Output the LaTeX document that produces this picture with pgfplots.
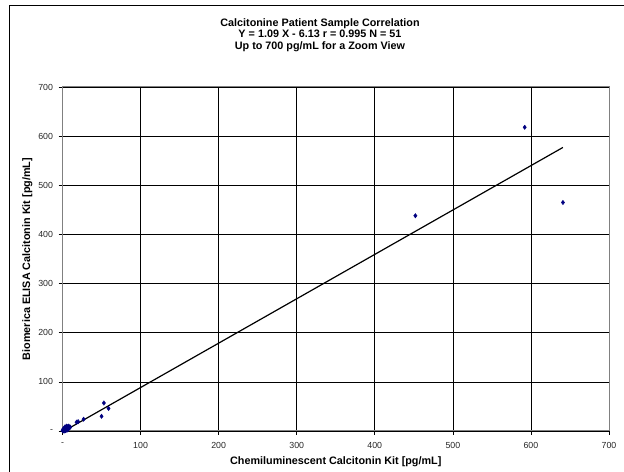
\documentclass[border=0pt]{standalone}
\usepackage{pgfplots}
\pgfplotsset{compat=1.18}
\usepackage{fontspec}
\setmainfont{Liberation Sans}
\definecolor{navy}{HTML}{000080}
\definecolor{axgray}{HTML}{808080}
\begin{document}
\begin{tikzpicture}[x=1bp,y=1bp]
\useasboundingbox (0,0) rectangle (624,472);
\draw[black,line width=0.8bp] (9.5,0) -- (9.5,466.5) -- (624,466.5);
\node[font=\fontsize{10.8bp}{11.5bp}\selectfont\bfseries,align=center,anchor=center] at (320,437) {Calcitonine Patient Sample Correlation\\Y = 1.09 X - 6.13 r = 0.995 N = 51\\Up to 700 pg/mL for a Zoom View};
\begin{axis}[
  at={(62.5bp,41bp)}, anchor=south west,
  width=546.5bp, height=344bp, scale only axis,
  xmin=0, xmax=700, ymin=0, ymax=700,
  xtick={0,100,...,700}, ytick={0,100,...,700},
  xticklabels={-,100,200,300,400,500,600,700},
  yticklabels={-,100,200,300,400,500,600,700},
  grid=major,
  major grid style={black, line width=0.7bp},
  axis line style={axgray, line width=1bp},
  tick style={black, line width=0.6bp},
  tick align=outside,
  major tick length=4bp,
  xtick pos=bottom, ytick pos=left,
  tick label style={font=\fontsize{8.8bp}{10bp}\selectfont, text=black!85},
  xticklabel style={yshift=-4bp},
  yticklabel style={xshift=-2bp},
  xlabel={Chemiluminescent Calcitonin Kit [pg/mL]},
  ylabel={Biomerica ELISA Calcitonin Kit [pg/mL]},
  label style={font=\fontsize{10.8bp}{12bp}\selectfont\bfseries},
  xlabel style={yshift=-1bp},
  ylabel style={yshift=-1bp},
  clip=true,
]
\addplot[only marks, mark=diamond*, mark size=2.2bp, color=navy, mark options={fill=navy}] coordinates {
(1,2) (2,1) (3,4) (4,3) (5,6) (6,5) (7,8) (8,10) (2,5) (3,0) (1,0) (5,2) (6,9) (4,7)
(9,7) (10,8) (7,3) (0,1) (8,6) (3,8) (2,3) (6,2) (5,10) (1,4) (4,1)
(18,18) (20,19) (27,24) (50,30) (53,57) (59,46)
(452,438) (592,618) (641,465)
};
\addplot[black, line width=1.2bp] coordinates {(1,-1) (641,577)};
\end{axis}
\end{tikzpicture}
\end{document}
